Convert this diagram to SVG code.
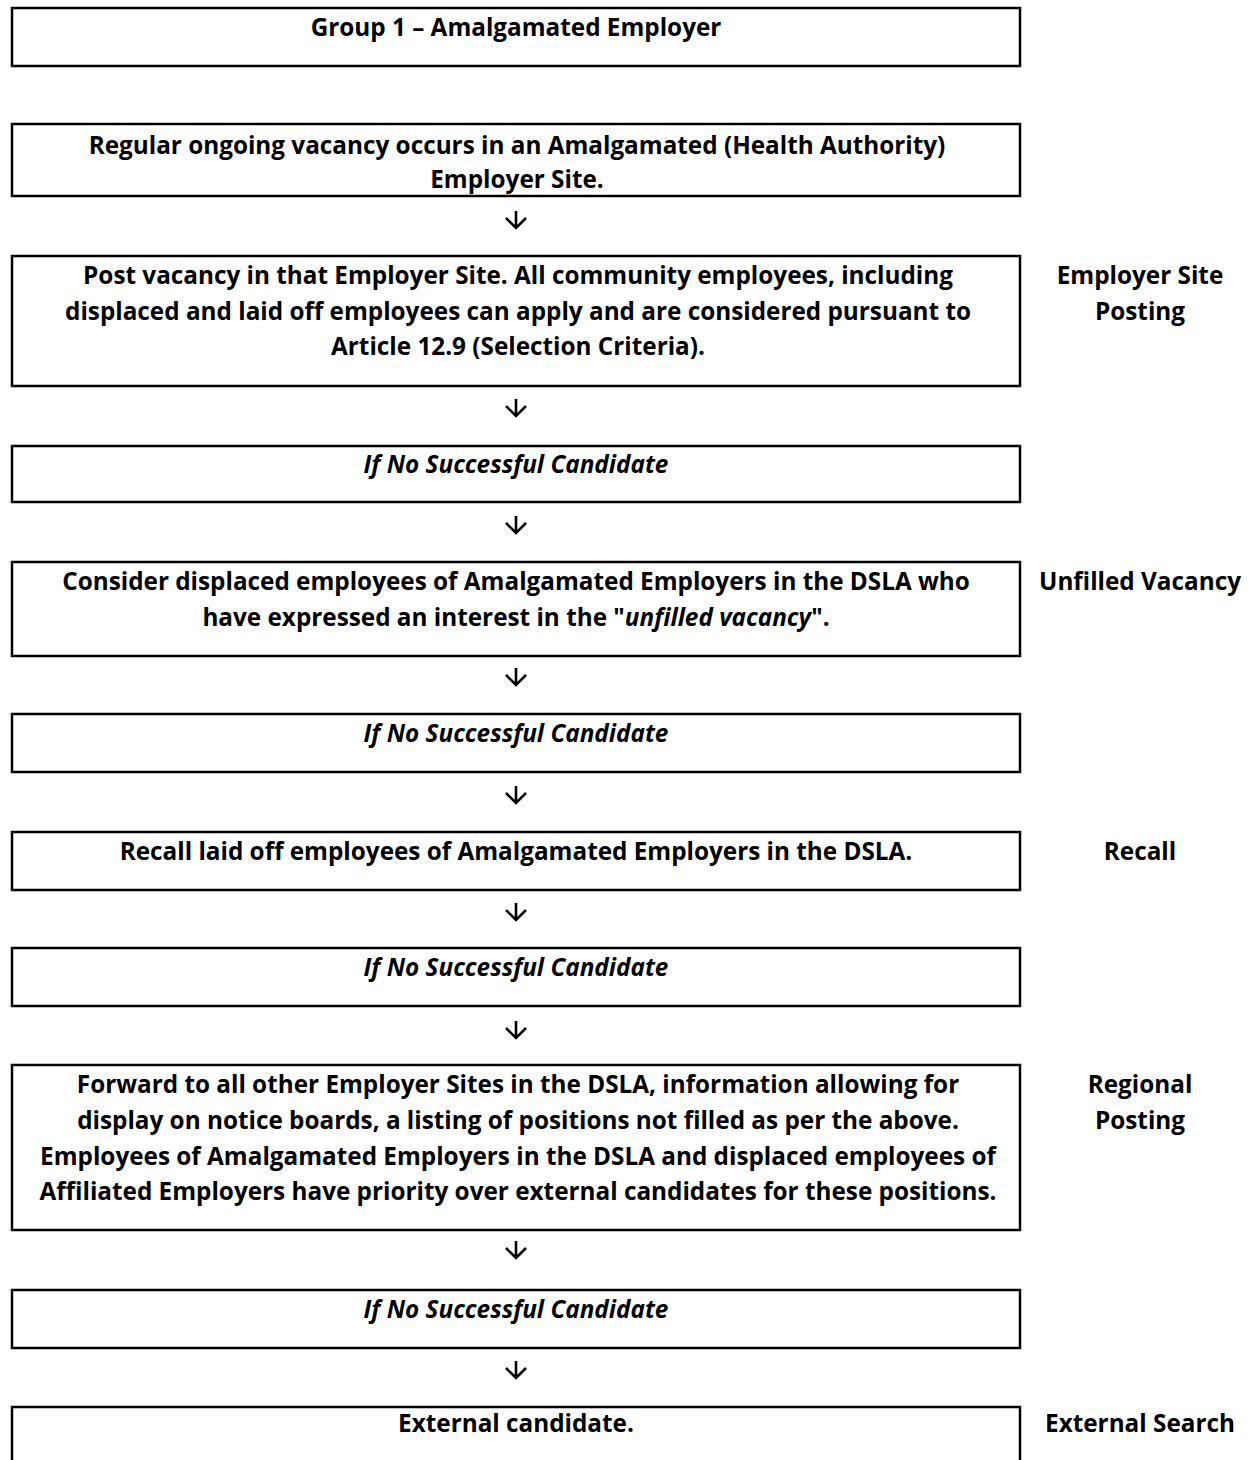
<svg xmlns="http://www.w3.org/2000/svg" width="1254" height="1460" viewBox="0 0 1254 1460">
<style>
.box{fill:#fff;stroke:#000;stroke-width:2.5}
.t{font-family:"Open Sans","Noto Sans","Liberation Sans",sans-serif;font-weight:bold;font-size:24.3px;fill:#000;text-anchor:middle}
.i{font-style:italic}
.arr{fill:none;stroke:#000;stroke-width:2.6;stroke-linecap:butt;stroke-linejoin:miter}
</style>
<rect width="1254" height="1460" fill="#fff"/>
<g id="n-group1"><rect class="box" x="12" y="8" width="1008" height="58"/><text class="t" x="516" y="36">Group 1 – Amalgamated Employer</text></g>
<g id="n-vacancy"><rect class="box" x="12" y="124" width="1008" height="72"/><text class="t" x="517" y="154">Regular ongoing vacancy occurs in an Amalgamated (Health Authority)</text><text class="t" x="517" y="188">Employer Site.</text></g>
<g id="n-post"><rect class="box" x="12" y="256" width="1008" height="130"/><text class="t" x="518" y="284">Post vacancy in that Employer Site. All community employees, including</text><text class="t" x="518" y="320">displaced and laid off employees can apply and are considered pursuant to</text><text class="t" x="518" y="355">Article 12.9 (Selection Criteria).</text></g>
<g id="n-no1"><rect class="box" x="12" y="446" width="1008" height="56"/><text class="t i" x="516" y="473">If No Successful Candidate</text></g>
<g id="n-displaced"><rect class="box" x="12" y="562" width="1008" height="94"/><text class="t" x="516" y="590">Consider displaced employees of Amalgamated Employers in the DSLA who</text><text class="t" x="516" y="626">have expressed an interest in the "<tspan class="i">unfilled vacancy</tspan>".</text></g>
<g id="n-no2"><rect class="box" x="12" y="714" width="1008" height="58"/><text class="t i" x="516" y="742">If No Successful Candidate</text></g>
<g id="n-recall"><rect class="box" x="12" y="832" width="1008" height="58"/><text class="t" x="516" y="860">Recall laid off employees of Amalgamated Employers in the DSLA.</text></g>
<g id="n-no3"><rect class="box" x="12" y="948" width="1008" height="58"/><text class="t i" x="516" y="976">If No Successful Candidate</text></g>
<g id="n-forward"><rect class="box" x="12" y="1065" width="1008" height="165"/><text class="t" x="518" y="1093">Forward to all other Employer Sites in the DSLA, information allowing for</text><text class="t" x="518" y="1129">display on notice boards, a listing of positions not filled as per the above.</text><text class="t" x="518" y="1165">Employees of Amalgamated Employers in the DSLA and displaced employees of</text><text class="t" x="518" y="1200">Affiliated Employers have priority over external candidates for these positions.</text></g>
<g id="n-no4"><rect class="box" x="12" y="1290" width="1008" height="58"/><text class="t i" x="516" y="1318">If No Successful Candidate</text></g>
<g id="n-external"><rect class="box" x="12" y="1407" width="1008" height="80"/><text class="t" x="516" y="1432">External candidate.</text></g>
<g id="labels">
<text class="t" x="1140" y="284">Employer Site</text><text class="t" x="1140" y="320">Posting</text>
<text class="t" x="1140" y="590">Unfilled Vacancy</text>
<text class="t" x="1140" y="860">Recall</text>
<text class="t" x="1140" y="1093">Regional</text><text class="t" x="1140" y="1129">Posting</text>
<text class="t" x="1140" y="1432">External Search</text>
</g>
<g id="connectors">
<path class="arr" d="M516 211V228M506 218L516 228L526 218"/>
<path class="arr" d="M516 399V416M506 406L516 416L526 406"/>
<path class="arr" d="M516 516V533M506 523L516 533L526 523"/>
<path class="arr" d="M516 668V685M506 675L516 685L526 675"/>
<path class="arr" d="M516 786V803M506 793L516 803L526 793"/>
<path class="arr" d="M516 903V920M506 910L516 920L526 910"/>
<path class="arr" d="M516 1021V1038M506 1028L516 1038L526 1028"/>
<path class="arr" d="M516 1241V1258M506 1248L516 1258L526 1248"/>
<path class="arr" d="M516 1361V1378M506 1368L516 1378L526 1368"/>
</g>
</svg>
